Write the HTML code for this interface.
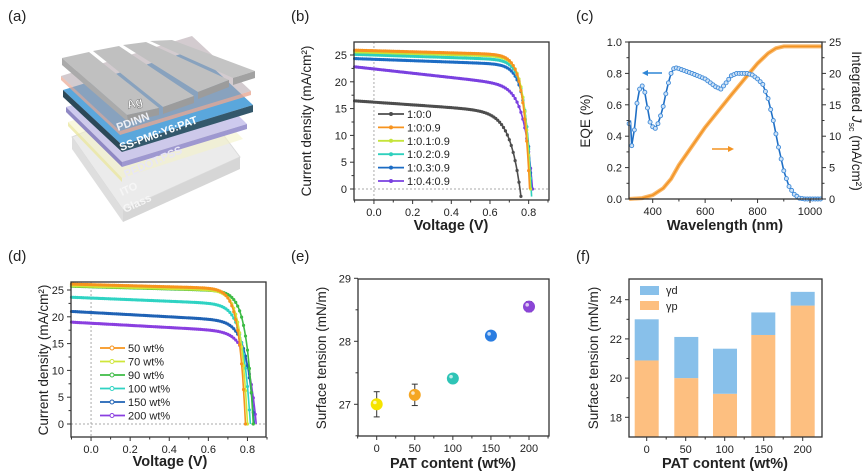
<!DOCTYPE html>
<html><head><meta charset="utf-8"><style>
html,body{margin:0;padding:0;background:#fff;}
svg{display:block;font-family:"Liberation Sans",Arial,sans-serif;}
</style></head><body>
<svg id="s" width="865" height="476" viewBox="0 0 865 476" xmlns="http://www.w3.org/2000/svg">
<rect width="865" height="476" fill="#fff"/>
<g font-size="15" fill="#222">
<text x="8" y="21">(a)</text><text x="291" y="21">(b)</text><text x="576" y="21">(c)</text>
<text x="8" y="261">(d)</text><text x="291" y="261">(e)</text><text x="576" y="261">(f)</text>
</g>
<g id="pa">
 <polygon points="72,137 123,210 240,157 189,89" fill="#e9e9e9" stroke="#d8d8d8" stroke-width="1" opacity="0.9"/>
 <polygon points="72,137 123,210 123,222 72,149" fill="#dedede"/>
 <polygon points="123,210 240,157 240,169 123,222" fill="#d6d6d6"/>
 <polygon points="68,122 122,178 243,139 189,83" fill="#f4f2c4" opacity="0.55"/>
 <polygon points="68,122 122,178 122,182 68,126" fill="#ebe7a0" opacity="0.8"/>
 <polygon points="66,107 122,162 247,124 191,69" fill="#c9c4ec" opacity="0.9"/>
 <polygon points="66,107 122,162 122,167 66,112" fill="#8f88c4"/>
 <polygon points="122,162 247,124 247,129 122,167" fill="#9e98d0"/>
 <polygon points="63,90 122,145 253,105 194,50" fill="#5aa7dc"/>
 <polygon points="63,90 122,145 122,152 63,97" fill="#2b4858"/>
 <polygon points="122,145 253,105 253,112 122,152" fill="#34586b"/>
 <polygon points="61,76 120,131 251,91 192,36" fill="#e8a898" opacity="0.3"/>
 <polygon points="61,76 120,131 120,135 61,80" fill="#e9a792" opacity="0.7"/>
 <polygon points="120,131 251,91 251,95 120,135" fill="#e9a792" opacity="0.8"/>
 <polygon points="61,76 120,131 251,91 192,36" fill="#8e9cb0" opacity="0.35"/>
 <g>
  <polygon points="62,58 89,52 159,108 127,115" fill="#c0c0c0"/>
  <polygon points="127,115 159,108 159,115 128,122" fill="#9c9c9c"/>
  <polygon points="62,58 127,115 128,122 62,65" fill="#aaaaaa"/>
  <polygon points="93,51 119,46 194,96 163,107" fill="#c0c0c0"/>
  <polygon points="163,107 194,96 194,103 163,114" fill="#9c9c9c"/>
  <polygon points="123,45 146,42 229,80 198,92" fill="#c0c0c0"/>
  <polygon points="198,92 229,80 229,87 198,99" fill="#9c9c9c"/>
  <polygon points="150,41 172,40 255,71 233,78" fill="#c4c4c4"/>
  <polygon points="233,78 255,71 255,78 233,85" fill="#a2a2a2"/>
 </g>
 <g font-weight="bold" font-size="11" fill="#fff">
  <text x="128" y="109" font-size="12" transform="rotate(-15 128 109)" stroke="#777" stroke-width="0.5">Ag</text>
  <text x="118" y="131" transform="rotate(-20 118 131)" fill="#eef0f6">PDINN</text>
  <text x="121" y="151" transform="rotate(-20 121 151)">SS-PM6:Y6:PAT</text>
  <text x="126" y="178" transform="rotate(-24 126 178)" fill="#e8e6f6">PEDOT:PSS</text>
  <text x="122" y="196" transform="rotate(-25 122 196)" fill="#f6f6f6">ITO</text>
  <text x="125" y="213" transform="rotate(-25 125 213)" fill="#f6f6f6">Glass</text>
 </g>
</g>
<g id="dyn"></g>
</svg>
<script>
var NS="http://www.w3.org/2000/svg",G=document.getElementById("dyn");
function el(t,a,txt){var e=document.createElementNS(NS,t);for(var k in a)e.setAttribute(k,a[k]);if(txt!==undefined)e.textContent=txt;G.appendChild(e);return e;}
function lin(v0,v1,p0,p1){return function(v){return p0+(v-v0)*(p1-p0)/(v1-v0);};}
function frame(x0,y0,x1,y1){el("rect",{x:x0,y:y0,width:x1-x0,height:y1-y0,fill:"none",stroke:"#333","stroke-width":1.3});}
function xticks(X,y1,vals,labs,minors){vals.forEach(function(v,i){var x=X(v);el("line",{x1:x,y1:y1,x2:x,y2:y1+4,stroke:"#333"});el("text",{x:x,y:y1+16,"font-size":11,"text-anchor":"middle",fill:"#222"},labs[i]);});(minors||[]).forEach(function(v){var x=X(v);el("line",{x1:x,y1:y1,x2:x,y2:y1+2.5,stroke:"#333"});});}
function yticks(Y,x0,vals,labs,minors,right){var d=right?1:-1;vals.forEach(function(v,i){var y=Y(v);el("line",{x1:x0,y1:y,x2:x0+4*d,y2:y,stroke:"#333"});el("text",{x:x0+7*d,y:y+4,"font-size":11,"text-anchor":right?"start":"end",fill:"#222"},labs[i]);});(minors||[]).forEach(function(v){var y=Y(v);el("line",{x1:x0,y1:y,x2:x0+2.5*d,y2:y,stroke:"#333"});});}
function ylab(x,y,t,rot){el("text",{x:x,y:y,"font-size":13.5,"text-anchor":"middle",fill:"#222",transform:"rotate("+(rot||-90)+" "+x+" "+y+")"},t);}
function xlab(x,y,t){el("text",{x:x,y:y,"font-size":14.5,"font-weight":"bold","text-anchor":"middle",fill:"#222"},t);}
function jv(X,Y,c,Jsc,Voc,g,vt,ymin){var B=(Jsc-g*Voc)/(Math.exp(Voc/vt)-1),pts=[],mk=[];for(var V=-0.1;V<=Voc+0.05;V+=0.005){var J=Jsc-g*V-B*(Math.exp(V/vt)-1);if(J<ymin){break;}pts.push(X(V).toFixed(1)+","+Y(J).toFixed(1));mk.push([X(V),Y(J)]);}
el("polyline",{points:pts.join(" "),fill:"none",stroke:c,"stroke-width":1.6});mk.forEach(function(p,i){if(i%2==0)el("circle",{cx:p[0],cy:p[1],r:1.6,fill:c});});}
(function(){var X=lin(-0.1,0.9,354.6,548),Y=lin(0,25,189,55);
el("line",{x1:X(0),y1:42,x2:X(0),y2:200,stroke:"#aaa","stroke-dasharray":"2,2"});
el("line",{x1:354,y1:Y(0),x2:549,y2:Y(0),stroke:"#aaa","stroke-dasharray":"2,2"});
var C=[["1:0:0","#4d4d4d",16.2,0.755,2.5,0.055],["1:0:0.9","#f7931e",25.8,0.805,1,0.034],["1:0.1:0.9","#c5e43a",25.5,0.81,1,0.034],["1:0.2:0.9","#2fd0bd",25.0,0.813,1.2,0.035],["1:0.3:0.9","#1c6cc4",24.2,0.815,1.3,0.036],["1:0.4:0.9","#7a40e0",22.4,0.82,4,0.045]];
C.slice().reverse().forEach(function(c){jv(X,Y,c[1],c[2],c[3],c[4],c[5],-2);});
C.forEach(function(c,i){var y=114+i*13.4;el("line",{x1:378,y1:y,x2:404,y2:y,stroke:c[1],"stroke-width":1.8});el("circle",{cx:391,cy:y,r:2,fill:c[1]});el("text",{x:407,y:y+4,"font-size":11,fill:"#222"},c[0]);});
frame(354,42,549,200);
xticks(X,200,[0,0.2,0.4,0.6,0.8],["0.0","0.2","0.4","0.6","0.8"],[-0.1,0.1,0.3,0.5,0.7,0.9]);
yticks(Y,354,[0,5,10,15,20,25],["0","5","10","15","20","25"],[2.5,7.5,12.5,17.5,22.5]);
ylab(311,121,"Current density (mA/cm²)");xlab(451,230,"Voltage (V)");})();
(function(){var X=lin(400,1000,652.7,810),Y=lin(0,1,199,42),Y2=lin(0,25,199,42);
var J=[[310,0],[360,0.15],[400,0.6],[440,1.7],[470,3.2],[500,5.4],[600,11.4],[700,16.6],[760,19.6],[800,21.6],[840,23.2],[870,24.0],[900,24.3],[1046,24.3]];
var pts=J.map(function(p){return X(p[0]).toFixed(1)+","+Y2(p[1]).toFixed(1);}).join(" ");
el("polyline",{points:pts,fill:"none",stroke:"#f7a84a","stroke-width":4,opacity:0.85});
el("polyline",{points:pts,fill:"none",stroke:"#f39322","stroke-width":1.5});
var E=[[310,0.48],[315,0.5],[320,0.34],[330,0.44],[340,0.61],[350,0.70],[360,0.72],[370,0.68],[380,0.58],[390,0.49],[400,0.46],[410,0.45],[420,0.48],[430,0.53],[440,0.59],[450,0.67],[460,0.74],[470,0.8],[480,0.83],[490,0.835],[500,0.83],[550,0.8],[600,0.765],[640,0.715],[660,0.70],[680,0.74],[700,0.785],[720,0.8],[760,0.8],[780,0.79],[800,0.765],[820,0.73],[840,0.64],[860,0.5],[880,0.33],[900,0.18],[920,0.08],[940,0.03],[960,0.005],[980,0],[1046,0]];
function ev(w){for(var i=0;i<E.length-1;i++){if(w>=E[i][0]&&w<=E[i+1][0]){var t=(w-E[i][0])/(E[i+1][0]-E[i][0]);return E[i][1]+t*(E[i+1][1]-E[i][1]);}}return 0;}
var p2=[];for(var w=310;w<=1040;w+=5)p2.push(X(w).toFixed(1)+","+Y(ev(w)).toFixed(1));
el("polyline",{points:p2.join(" "),fill:"none",stroke:"#1f6fc5","stroke-width":1.6});
for(var w=310;w<=1040;w+=10)el("circle",{cx:X(w),cy:Y(ev(w)),r:2,fill:"#cfe3f7",stroke:"#3f8ad8","stroke-width":0.9});
el("line",{x1:662,y1:73,x2:645,y2:73,stroke:"#2f86d6","stroke-width":1.5});el("polygon",{points:"642,73 648,70 648,76",fill:"#2f86d6"});
el("line",{x1:712,y1:149,x2:731,y2:149,stroke:"#f39322","stroke-width":1.5});el("polygon",{points:"734,149 728,146 728,152",fill:"#f39322"});
frame(629,42,822,199);
xticks(X,199,[400,600,800,1000],["400","600","800","1000"],[500,700,900]);
yticks(Y,629,[0,0.2,0.4,0.6,0.8,1.0],["0.0","0.2","0.4","0.6","0.8","1.0"],[0.1,0.3,0.5,0.7,0.9]);
yticks(Y2,822,[0,5,10,15,20,25],["0","5","10","15","20","25"],[2.5,7.5,12.5,17.5,22.5],true);
ylab(590,121,"EQE (%)");
var t=el("text",{x:852,y:121,"font-size":13.5,"text-anchor":"middle",fill:"#222",transform:"rotate(90 852 121)"});
t.innerHTML='Integrated <tspan font-style="italic">J</tspan><tspan font-size="9" dy="3">sc</tspan><tspan dy="-3"> (mA/cm²)</tspan>';
xlab(725,230,"Wavelength (nm)");})();
(function(){var X=lin(-0.1,0.9,71.5,267),Y=lin(0,25,424,290);
el("line",{x1:X(0),y1:282,x2:X(0),y2:437,stroke:"#aaa","stroke-dasharray":"2,2"});
el("line",{x1:71,y1:Y(0),x2:266,y2:Y(0),stroke:"#aaa","stroke-dasharray":"2,2"});
var C=[["50 wt%","#f7941d",26.0,0.79,1,0.034],["70 wt%","#cfe63a",25.7,0.80,1,0.035],["90 wt%","#3dbb45",25.6,0.83,1,0.037],["100 wt%","#2fd3c3",23.5,0.815,1.5,0.04],["150 wt%","#1f62b5",20.8,0.835,2,0.042],["200 wt%","#8a3fe0",18.8,0.845,2,0.045]];
C.slice().reverse().forEach(function(c){jv(X,Y,c[1],c[2],c[3],c[4],c[5],-2);});
C.forEach(function(c,i){var y=348+i*13.5;el("line",{x1:100,y1:y,x2:125,y2:y,stroke:c[1],"stroke-width":1.8});el("circle",{cx:112,cy:y,r:2,fill:"#fff",stroke:c[1]});el("text",{x:128,y:y+4,"font-size":11,fill:"#222"},c[0]);});
frame(71,282,266,437);
xticks(X,437,[0,0.2,0.4,0.6,0.8],["0.0","0.2","0.4","0.6","0.8"],[-0.1,0.1,0.3,0.5,0.7,0.9]);
yticks(Y,71,[0,5,10,15,20,25],["0","5","10","15","20","25"],[2.5,7.5,12.5,17.5,22.5]);
ylab(48,360,"Current density (mA/cm²)");xlab(170,466,"Voltage (V)");})();
(function(){var X=lin(0,200,376.7,529),Y=lin(27,29,404.3,278.3);
var P=[[0,27.0,0.2,"#f5e400"],[50,27.15,0.17,"#f5a623"],[100,27.41,0.05,"#2ec4b6"],[150,28.09,0.05,"#2a7de1"],[200,28.55,0.08,"#8b45d6"]];
frame(358,279,549,436);
P.forEach(function(p){var x=X(p[0]),y=Y(p[1]),e=p[2]*63;el("line",{x1:x,y1:y-e,x2:x,y2:y+e,stroke:"#333"});el("line",{x1:x-3,y1:y-e,x2:x+3,y2:y-e,stroke:"#333"});el("line",{x1:x-3,y1:y+e,x2:x+3,y2:y+e,stroke:"#333"});el("circle",{cx:x,cy:y,r:6,fill:p[3]});el("circle",{cx:x-1.8,cy:y-1.8,r:1.8,fill:"#fff",opacity:0.7});});
xticks(X,436,[0,50,100,150,200],["0","50","100","150","200"],[-25,25,75,125,175,225]);
yticks(Y,358,[27,28,29],["27","28","29"],[26.5,27.5,28.5]);
ylab(326,358,"Surface tension (mN/m)");xlab(453,468,"PAT content (wt%)");})();
(function(){var Y=lin(24,18,299.7,417.3);var xs=[646.7,686.3,725,763.3,802.7];
var B=[[20.9,23.0],[20.0,22.1],[19.2,21.5],[22.2,23.35],[23.7,24.4]];
B.forEach(function(b,i){var x=xs[i]-12;el("rect",{x:x,y:Y(b[0]),width:24,height:437-Y(b[0]),fill:"#fdbf80"});el("rect",{x:x,y:Y(b[1]),width:24,height:Y(b[0])-Y(b[1]),fill:"#88c0ea"});});
el("rect",{x:640,y:286,width:19,height:9,fill:"#88c0ea"});el("text",{x:666,y:294,"font-size":11,fill:"#222"},"γd");
el("rect",{x:640,y:301,width:19,height:9,fill:"#fdbf80"});el("text",{x:666,y:310,"font-size":11,fill:"#222"},"γp");
frame(629,279,822,437);
var X=lin(0,200,646.7,802.7);
xticks(X,437,[0,50,100,150,200],["0","50","100","150","200"],[25,75,125,175]);
yticks(Y,629,[18,20,22,24],["18","20","22","24"],[19,21,23]);
ylab(598,358,"Surface tension (mN/m)");xlab(725,468,"PAT content (wt%)");})();
</script>
</body></html>
